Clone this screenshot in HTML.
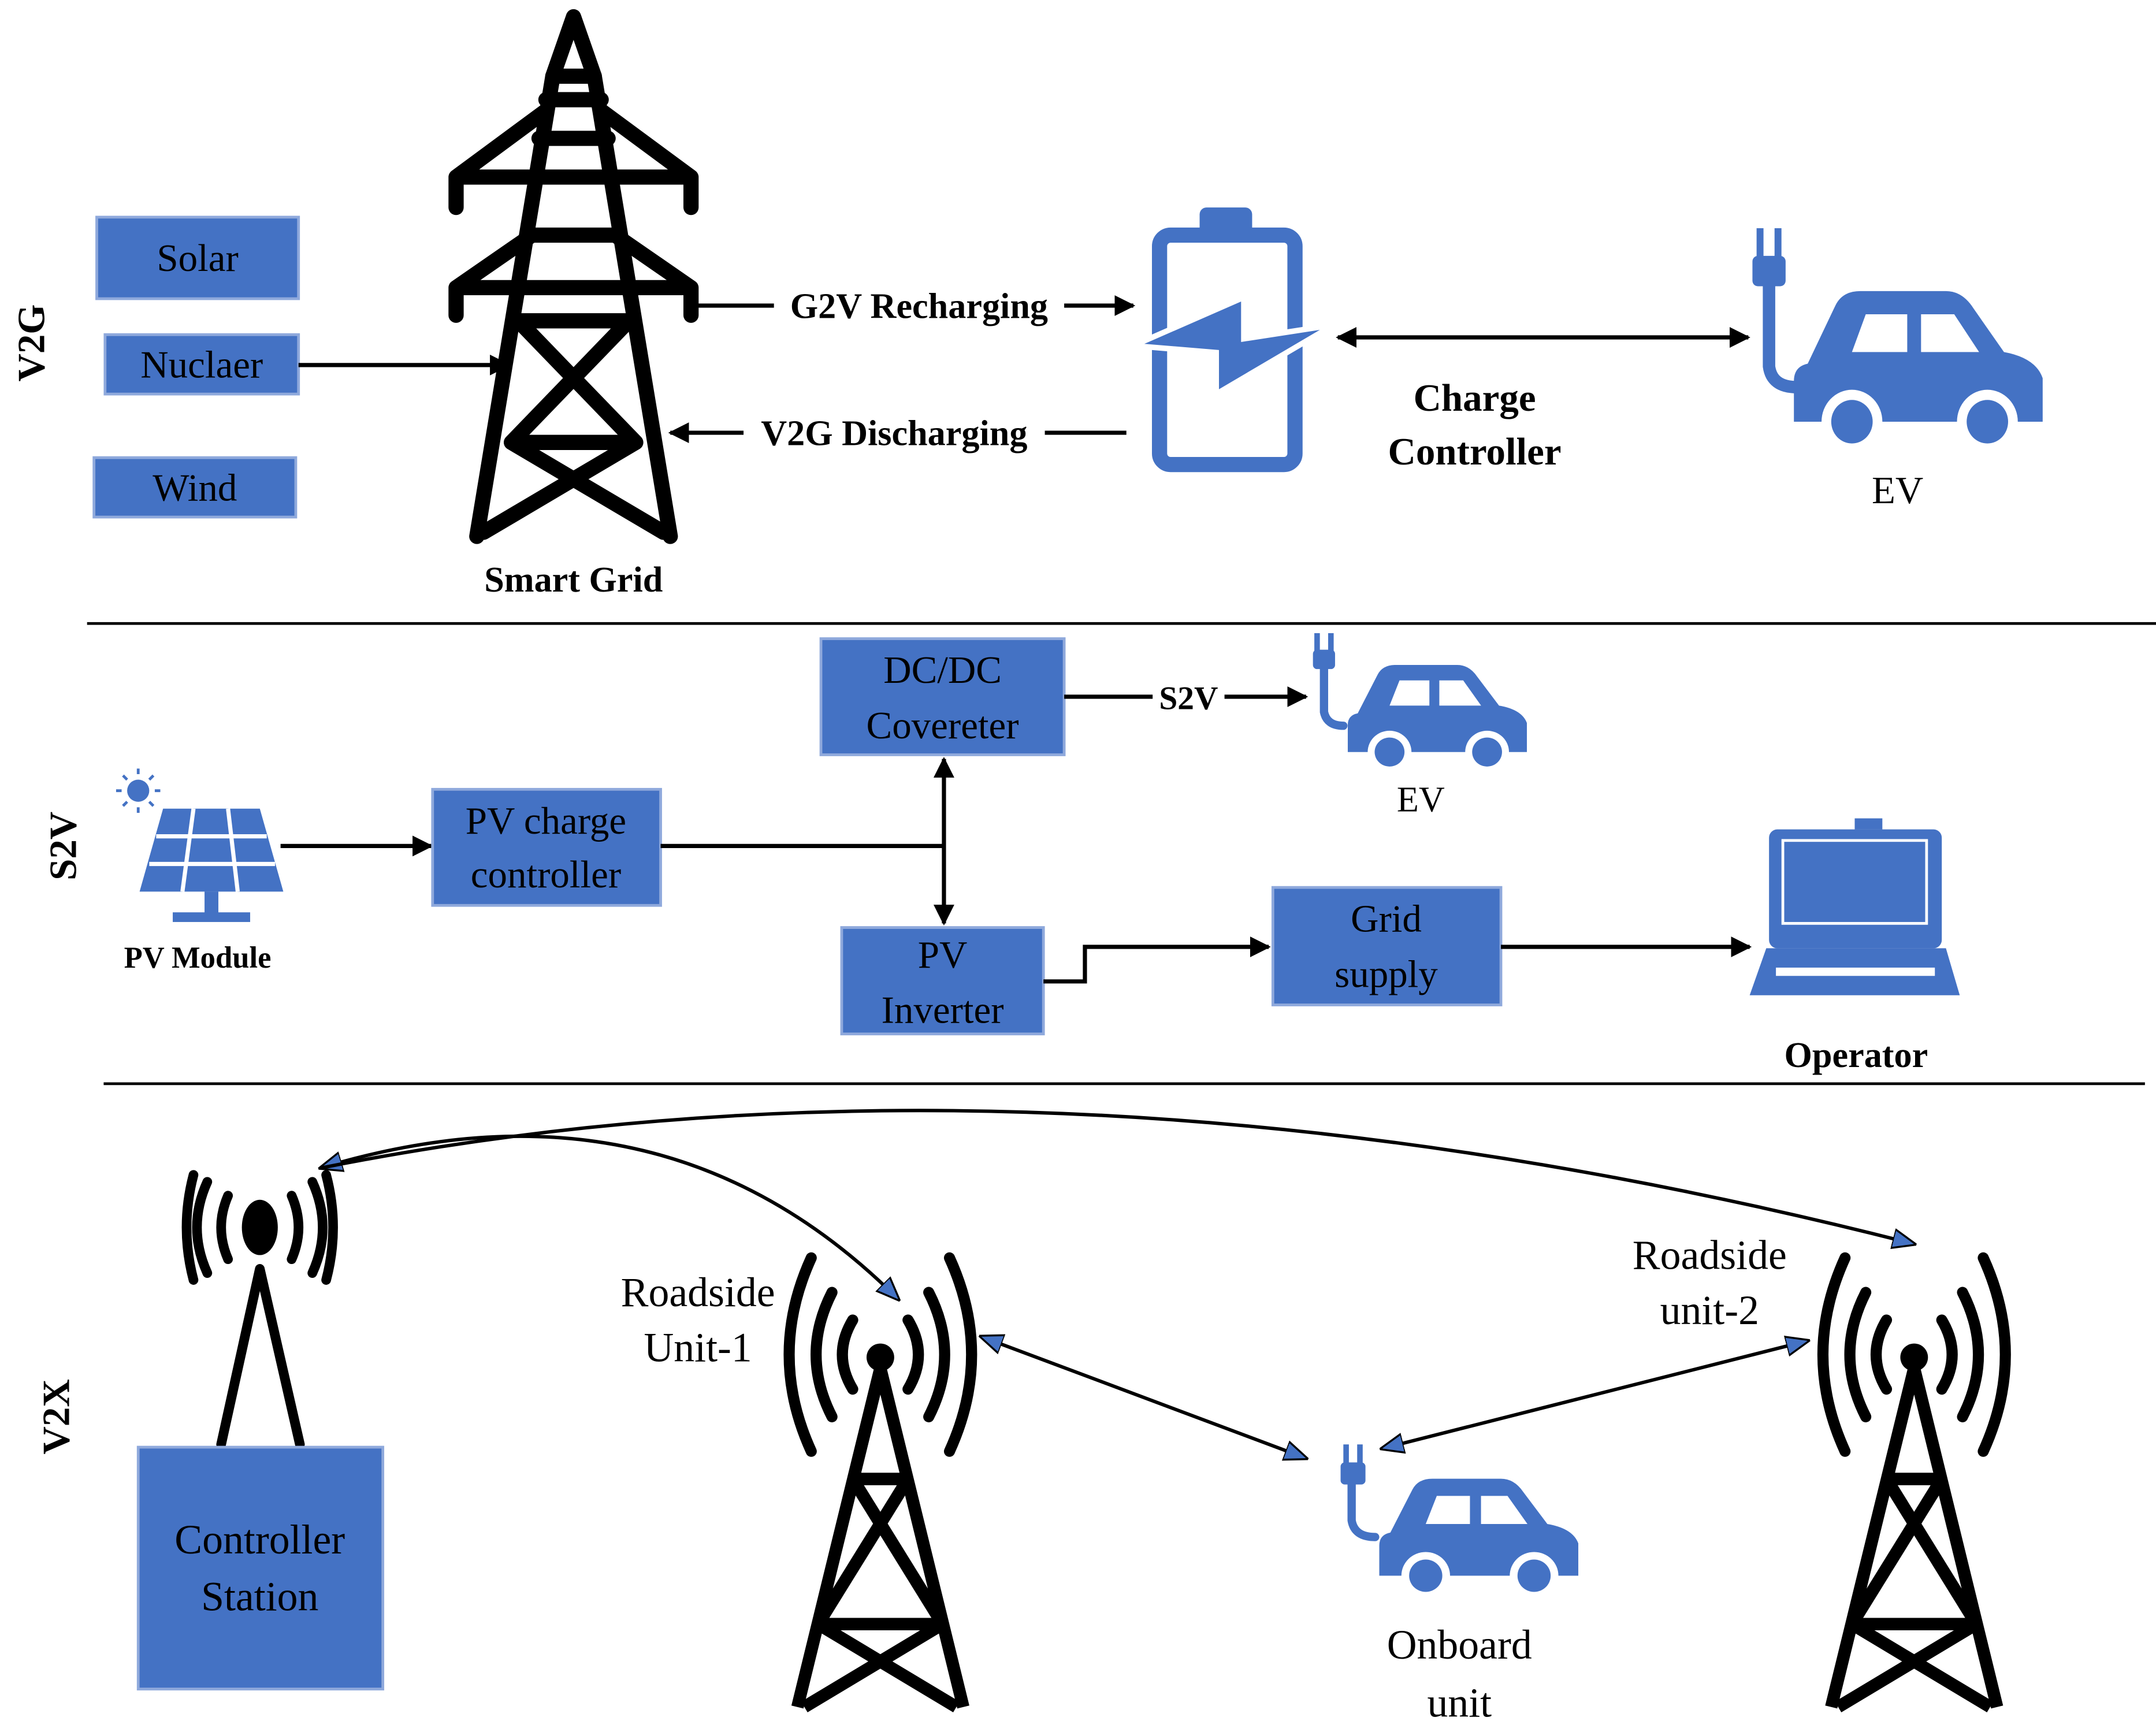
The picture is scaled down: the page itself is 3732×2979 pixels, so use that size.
<!DOCTYPE html>
<html><head><meta charset="utf-8">
<style>
html,body{margin:0;padding:0;background:#fff;}
svg{display:block;}
text{font-family:"Liberation Serif",serif;}
.b{font-weight:bold;}
</style></head>
<body>
<svg width="3732" height="2979" viewBox="0 0 1560 1245" xmlns="http://www.w3.org/2000/svg">
<defs>
<marker id="ah" viewBox="0 0 10 10" refX="9" refY="5" markerWidth="5" markerHeight="5" orient="auto-start-reverse"><path d="M0,0 L10,5 L0,10 z" fill="#000"/></marker>
<marker id="bh" viewBox="0 0 10 10" refX="9" refY="5" markerWidth="7" markerHeight="7" orient="auto-start-reverse"><path d="M0,1 L10,5 L0,9 z" fill="#4472c4" stroke="#000" stroke-width="0.8"/></marker>
<g id="car">
<path d="M20,60 L40,20 Q45,10 58,10 L120,10 Q132,10 140,22 L162,52 Q185,56 190,70 L190,100 L10,100 L10,72 Q10,62 20,60 z" fill="#4472c4"/>
<path d="M52,52 L62,26 L92,26 L92,52 z M102,26 L126,26 L144,52 L102,52 z" fill="#fff"/>
<circle cx="52" cy="100" r="22" fill="#fff"/><circle cx="52" cy="100" r="15" fill="#4472c4"/>
<circle cx="150" cy="100" r="22" fill="#fff"/><circle cx="150" cy="100" r="15" fill="#4472c4"/>
</g>
<g id="tower2" fill="none" stroke="#000" stroke-width="9" stroke-linejoin="round">
<path d="M0,0 L-60,245 M0,0 L60,245 M-20,80 L20,80 M-20,80 L45,185 M20,80 L-45,185 M-45,185 L45,185 M-45,185 L55,245 M45,185 L-55,245"/>
</g>
<g id="waves" fill="none" stroke="#000" stroke-width="8" stroke-linecap="round">
<path d="M-20,-25 Q-35,0 -20,25 M20,-25 Q35,0 20,25 M-35,-45 Q-58,0 -35,45 M35,-45 Q58,0 35,45 M-50,-70 Q-82,0 -50,70 M50,-70 Q82,0 50,70"/>
</g>
</defs>
<rect width="1560" height="1245" fill="#fff"/>

<!-- V2G -->
<text transform="translate(32,248) rotate(-90)" text-anchor="middle" font-size="28" class="b">V2G</text>
<rect x="70" y="157" width="146" height="59" fill="#4472c4" stroke="#8fa9dc" stroke-width="2"/>
<text x="143" y="196" text-anchor="middle" font-size="28">Solar</text>
<rect x="76" y="242" width="140" height="43" fill="#4472c4" stroke="#8fa9dc" stroke-width="2"/>
<text x="146" y="273" text-anchor="middle" font-size="28">Nuclaer</text>
<rect x="68" y="331" width="146" height="43" fill="#4472c4" stroke="#8fa9dc" stroke-width="2"/>
<text x="141" y="362" text-anchor="middle" font-size="28">Wind</text>
<line x1="216" y1="264" x2="368" y2="264" stroke="#000" stroke-width="3" marker-end="url(#ah)"/>

<!-- big tower -->
<g fill="none" stroke="#000" stroke-width="11" stroke-linejoin="round" stroke-linecap="round">
<path d="M400,55 L415,12 L430,55 Z"/>
<path d="M400,55 L345,388 M430,55 L485,388"/>
<path d="M395,72 L435,72 M390,100 L440,100"/>
<path d="M330,128 L500,128 M330,128 L330,150 M500,128 L500,150 M330,128 L395,80 M500,128 L435,80"/>
<path d="M330,208 L500,208 M330,208 L330,228 M500,208 L500,228 M330,208 L385,170 M500,208 L445,170 M385,170 L445,170"/>
<path d="M375,232 L455,232 M375,232 L460,320 M455,232 L370,320 M370,320 L460,320 M370,320 L480,385 M460,320 L350,385"/>
</g>
<text x="415" y="428" text-anchor="middle" font-size="26" class="b">Smart Grid</text>

<line x1="505" y1="221" x2="820" y2="221" stroke="#000" stroke-width="3" marker-end="url(#ah)"/>
<rect x="560" y="206" width="210" height="30" fill="#fff"/>
<text x="665" y="230" text-anchor="middle" font-size="26" class="b">G2V Recharging</text>
<line x1="815" y1="313" x2="485" y2="313" stroke="#000" stroke-width="3" marker-end="url(#ah)"/>
<rect x="538" y="298" width="218" height="30" fill="#fff"/>
<text x="647" y="322" text-anchor="middle" font-size="26" class="b">V2G Discharging</text>

<!-- battery -->
<rect x="868" y="150" width="38" height="22" rx="5" fill="#4472c4"/>
<rect x="839" y="170" width="98" height="166" rx="8" fill="none" stroke="#4472c4" stroke-width="11"/>
<path d="M820,250 L900,215 L900,245 L965,235 L880,285 L880,255 Z" fill="#4472c4" stroke="#fff" stroke-width="4"/>
<line x1="968" y1="244" x2="1265" y2="244" stroke="#000" stroke-width="3" marker-start="url(#ah)" marker-end="url(#ah)"/>
<text x="1067" y="297" text-anchor="middle" font-size="28" class="b">Charge</text>
<text x="1067" y="336" text-anchor="middle" font-size="28" class="b">Controller</text>

<!-- EV big -->
<g fill="none" stroke="#4472c4" stroke-width="9" stroke-linecap="round">
<path d="M1280,200 L1280,265 Q1282,280 1300,280"/>
</g>
<rect x="1268" y="185" width="24" height="22" rx="4" fill="#4472c4"/>
<rect x="1271" y="165" width="5" height="22" fill="#4472c4"/><rect x="1284" y="165" width="5" height="22" fill="#4472c4"/>
<use href="#car" transform="translate(1288,200) scale(1.0,1.05)"/>
<text x="1373" y="364" text-anchor="middle" font-size="28">EV</text>

<line x1="63" y1="451" x2="1560" y2="451" stroke="#000" stroke-width="2"/>

<!-- S2V -->
<text transform="translate(55,612) rotate(-90)" text-anchor="middle" font-size="28" class="b">S2V</text>
<rect x="594" y="462" width="176" height="84" fill="#4472c4" stroke="#8fa9dc" stroke-width="2"/>
<text x="682" y="494" text-anchor="middle" font-size="28">DC/DC</text>
<text x="682" y="534" text-anchor="middle" font-size="28">Covereter</text>
<line x1="770" y1="504" x2="945" y2="504" stroke="#000" stroke-width="3" marker-end="url(#ah)"/>
<rect x="834" y="490" width="52" height="28" fill="#fff"/>
<text x="860" y="513" text-anchor="middle" font-size="24" class="b">S2V</text>
<g fill="none" stroke="#4472c4" stroke-width="6" stroke-linecap="round"><path d="M958,480 L958,515 Q960,525 972,525"/></g>
<rect x="950" y="470" width="16" height="14" rx="3" fill="#4472c4"/>
<rect x="951" y="458" width="4" height="14" fill="#4472c4"/><rect x="961" y="458" width="4" height="14" fill="#4472c4"/>
<use href="#car" transform="translate(968,474) scale(0.72,0.7)"/>
<text x="1028" y="587" text-anchor="middle" font-size="26">EV</text>

<!-- PV module -->
<circle cx="100" cy="572" r="8" fill="#4472c4"/>
<g stroke="#4472c4" stroke-width="2"><path d="M100,556 V560 M100,584 V588 M84,572 H88 M112,572 H116 M89,561 L92,564 M108,580 L111,583 M111,561 L108,564 M92,580 L89,583"/></g>
<path d="M118,585 L188,585 L205,645 L101,645 Z" fill="#4472c4"/>
<g stroke="#fff" stroke-width="3"><path d="M113,605 H193 M108,625 H199 M140,585 L132,645 M165,585 L172,645"/></g>
<rect x="148" y="645" width="10" height="18" fill="#4472c4"/>
<rect x="125" y="660" width="56" height="7" fill="#4472c4"/>
<text x="143" y="700" text-anchor="middle" font-size="22" class="b">PV Module</text>
<line x1="203" y1="612" x2="312" y2="612" stroke="#000" stroke-width="3" marker-end="url(#ah)"/>
<rect x="313" y="571" width="165" height="84" fill="#4472c4" stroke="#8fa9dc" stroke-width="2"/>
<text x="395" y="603" text-anchor="middle" font-size="28">PV charge</text>
<text x="395" y="642" text-anchor="middle" font-size="28">controller</text>
<line x1="478" y1="612" x2="683" y2="612" stroke="#000" stroke-width="3"/>
<line x1="683" y1="549" x2="683" y2="668" stroke="#000" stroke-width="3" marker-start="url(#ah)" marker-end="url(#ah)"/>
<rect x="609" y="671" width="146" height="77" fill="#4472c4" stroke="#8fa9dc" stroke-width="2"/>
<text x="682" y="700" text-anchor="middle" font-size="28">PV</text>
<text x="682" y="740" text-anchor="middle" font-size="28">Inverter</text>
<polyline points="755,710 785,710 785,685 918,685" fill="none" stroke="#000" stroke-width="3" marker-end="url(#ah)"/>
<rect x="921" y="642" width="165" height="85" fill="#4472c4" stroke="#8fa9dc" stroke-width="2"/>
<text x="1003" y="674" text-anchor="middle" font-size="28">Grid</text>
<text x="1003" y="714" text-anchor="middle" font-size="28">supply</text>
<line x1="1086" y1="685" x2="1266" y2="685" stroke="#000" stroke-width="3" marker-end="url(#ah)"/>
<!-- laptop -->
<rect x="1280" y="600" width="125" height="86" rx="6" fill="#4472c4"/>
<rect x="1290" y="608" width="104" height="60" fill="none" stroke="#fff" stroke-width="2"/>
<rect x="1342" y="592" width="20" height="8" fill="#4472c4"/>
<path d="M1278,686 L1408,686 L1418,720 L1266,720 Z" fill="#4472c4"/>
<rect x="1285" y="700" width="115" height="6" fill="#fff"/>
<text x="1343" y="772" text-anchor="middle" font-size="26" class="b">Operator</text>

<line x1="75" y1="784" x2="1552" y2="784" stroke="#000" stroke-width="2"/>

<!-- V2X -->
<text transform="translate(50,1025) rotate(-90)" text-anchor="middle" font-size="28" class="b">V2X</text>
<ellipse cx="188" cy="888" rx="13" ry="20" fill="#000"/>
<g fill="none" stroke="#000" stroke-width="7" stroke-linecap="round">
<path d="M165,865 Q155,888 165,911 M211,865 Q221,888 211,911 M150,855 Q135,888 150,921 M226,855 Q241,888 226,921 M140,850 Q130,888 140,926 M236,850 Q246,888 236,926"/>
<path d="M188,918 L160,1045 M188,918 L217,1045"/>
</g>
<rect x="100" y="1047" width="177" height="175" fill="#4472c4" stroke="#8fa9dc" stroke-width="2"/>
<text x="188" y="1124" text-anchor="middle" font-size="30">Controller</text>
<text x="188" y="1165" text-anchor="middle" font-size="30">Station</text>

<use href="#waves" transform="translate(637,980)"/>
<circle cx="637" cy="982" r="10" fill="#000"/>
<use href="#tower2" transform="translate(637,990)"/>
<use href="#waves" transform="translate(1385,980)"/>
<circle cx="1385" cy="982" r="10" fill="#000"/>
<use href="#tower2" transform="translate(1385,990)"/>

<text x="505" y="945" text-anchor="middle" font-size="30">Roadside</text>
<text x="505" y="985" text-anchor="middle" font-size="30">Unit-1</text>
<text x="1237" y="918" text-anchor="middle" font-size="30">Roadside</text>
<text x="1237" y="958" text-anchor="middle" font-size="30">unit-2</text>

<g fill="none" stroke="#4472c4" stroke-width="6" stroke-linecap="round"><path d="M978,1062 L978,1100 Q980,1112 995,1112"/></g>
<rect x="970" y="1058" width="18" height="16" rx="3" fill="#4472c4"/>
<rect x="972" y="1045" width="4" height="14" fill="#4472c4"/><rect x="982" y="1045" width="4" height="14" fill="#4472c4"/>
<use href="#car" transform="translate(990,1062) scale(0.8,0.78)"/>
<text x="1056" y="1200" text-anchor="middle" font-size="30">Onboard</text>
<text x="1056" y="1242" text-anchor="middle" font-size="30">unit</text>

<path d="M232,845 Q480,770 650,940" fill="none" stroke="#000" stroke-width="2.5" marker-start="url(#bh)" marker-end="url(#bh)"/>
<path d="M232,845 Q760,740 1385,900" fill="none" stroke="#000" stroke-width="2.5" marker-end="url(#bh)"/>
<line x1="710" y1="967" x2="945" y2="1055" stroke="#000" stroke-width="2.5" marker-start="url(#bh)" marker-end="url(#bh)"/>
<line x1="1000" y1="1048" x2="1308" y2="970" stroke="#000" stroke-width="2.5" marker-start="url(#bh)" marker-end="url(#bh)"/>
</svg>
</body></html>
